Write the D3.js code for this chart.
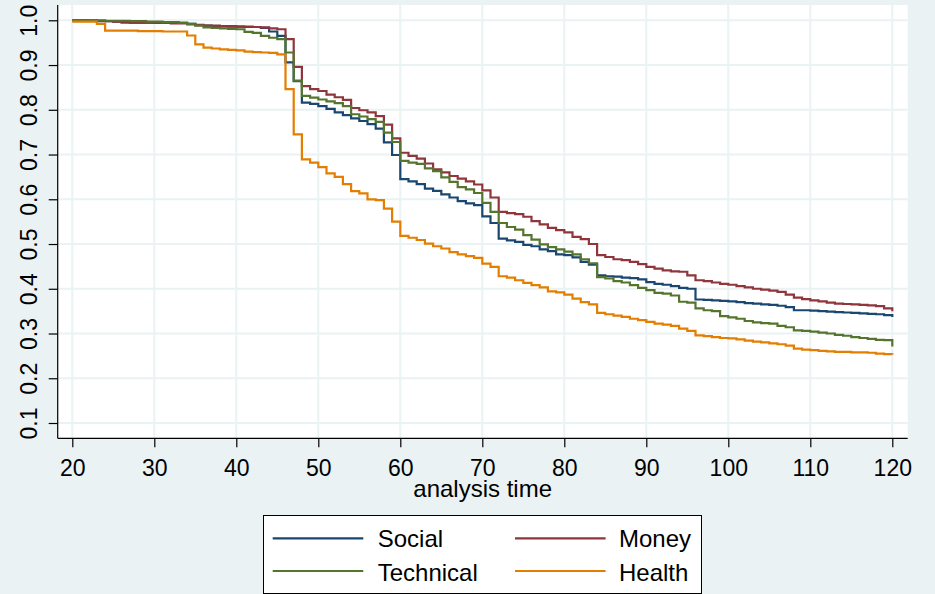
<!DOCTYPE html>
<html><head><meta charset="utf-8">
<script src="https://cdn.jsdelivr.net/npm/d3@7"></script>
<style>
html,body{margin:0;padding:0;background:#eaf2f3;}
svg{display:block;font-family:"Liberation Sans",Arial,Helvetica,sans-serif;}
</style></head>
<body>
<svg id="chart" width="935" height="594"></svg>
<script>
// ---- data ----
const times = d3.range(20, 121); // analysis time 20..120
const seriesNames = ["Social", "Money", "Technical", "Health"];
const social = [1.0,1.0,0.999,0.998,0.998,0.997,0.997,0.995,0.995,0.995,
  0.995,0.995,0.994,0.994,0.992,0.99,0.988,0.987,0.987,0.986,
  0.986,0.985,0.985,0.983,0.975,0.965,0.906,0.864,0.816,0.813,
  0.808,0.802,0.794,0.788,0.781,0.775,0.768,0.758,0.727,0.699,
  0.645,0.640,0.634,0.624,0.619,0.611,0.604,0.596,0.591,0.587,
  0.562,0.547,0.512,0.508,0.505,0.498,0.495,0.488,0.484,0.477,
  0.475,0.470,0.460,0.454,0.430,0.428,0.427,0.425,0.424,0.421,
  0.415,0.411,0.409,0.406,0.402,0.400,0.376,0.375,0.374,0.373,
  0.372,0.370,0.368,0.367,0.365,0.364,0.362,0.359,0.352,0.352,
  0.351,0.350,0.349,0.348,0.347,0.346,0.345,0.344,0.343,0.341,
  0.337];
const money = [1.0,1.0,1.0,0.999,0.998,0.997,0.995,0.995,0.995,0.995,
  0.994,0.994,0.993,0.993,0.991,0.989,0.988,0.988,0.987,0.987,
  0.986,0.986,0.985,0.984,0.982,0.980,0.958,0.896,0.853,0.846,
  0.842,0.834,0.828,0.822,0.804,0.799,0.794,0.786,0.767,0.736,
  0.704,0.697,0.691,0.680,0.667,0.660,0.652,0.646,0.640,0.633,
  0.620,0.604,0.572,0.569,0.567,0.561,0.551,0.544,0.536,0.531,
  0.526,0.516,0.511,0.500,0.475,0.471,0.466,0.464,0.460,0.455,
  0.449,0.445,0.441,0.439,0.438,0.430,0.419,0.417,0.414,0.411,
  0.409,0.406,0.403,0.400,0.398,0.396,0.393,0.387,0.380,0.377,
  0.374,0.372,0.369,0.367,0.366,0.365,0.364,0.363,0.361,0.356,
  0.350];
const technical = [1.0,1.0,1.0,1.0,0.999,0.999,0.999,0.998,0.998,0.997,
  0.997,0.996,0.996,0.995,0.992,0.988,0.984,0.983,0.982,0.981,
  0.980,0.974,0.972,0.965,0.961,0.958,0.928,0.865,0.831,0.827,
  0.823,0.819,0.815,0.808,0.790,0.785,0.779,0.773,0.749,0.728,
  0.686,0.682,0.679,0.669,0.663,0.649,0.639,0.627,0.622,0.614,
  0.592,0.572,0.547,0.538,0.532,0.520,0.510,0.499,0.493,0.488,
  0.483,0.477,0.466,0.457,0.426,0.423,0.417,0.414,0.408,0.402,
  0.397,0.391,0.389,0.385,0.371,0.369,0.356,0.352,0.350,0.339,
  0.336,0.333,0.328,0.325,0.323,0.322,0.317,0.314,0.307,0.306,
  0.304,0.302,0.300,0.297,0.295,0.292,0.290,0.288,0.286,0.285,
  0.271];
const health = [0.997,0.997,0.997,0.992,0.977,0.977,0.977,0.977,0.976,0.976,
  0.976,0.975,0.975,0.975,0.966,0.946,0.939,0.937,0.935,0.934,
  0.933,0.930,0.929,0.928,0.927,0.924,0.846,0.745,0.689,0.682,
  0.672,0.658,0.650,0.634,0.618,0.613,0.600,0.598,0.579,0.550,
  0.518,0.514,0.509,0.501,0.495,0.490,0.482,0.477,0.473,0.469,
  0.456,0.449,0.428,0.425,0.419,0.413,0.408,0.403,0.394,0.392,
  0.387,0.378,0.370,0.365,0.346,0.343,0.340,0.337,0.333,0.330,
  0.326,0.322,0.320,0.317,0.311,0.306,0.296,0.294,0.292,0.290,
  0.289,0.287,0.284,0.282,0.280,0.278,0.276,0.273,0.266,0.264,
  0.263,0.261,0.260,0.259,0.259,0.258,0.258,0.257,0.255,0.254,
  0.253];
const xTicks = [20,30,40,50,60,70,80,90,100,110,120];
const yTicks = [0.1,0.2,0.3,0.4,0.5,0.6,0.7,0.8,0.9,1.0];
const xTitle = "analysis time";
const colors = ["#1a476f","#90353b","#55752f","#e37e00"];

// ---- layout ----
const svg = d3.select("#chart");
const plotL = 57.7, plotR = 907.7, plotT = 5, plotB = 438.3;
const x = d3.scaleLinear().domain([20,120]).range([72.3, 892.3]);
const y = d3.scaleLinear().domain([0.1,1.0]).range([423, 20.3]);

svg.append("rect").attr("x",0).attr("y",0).attr("width",935).attr("height",594).attr("fill","#eaf2f3");
svg.append("rect").attr("x",plotL).attr("y",plotT).attr("width",plotR-plotL).attr("height",plotB-plotT).attr("fill","#ffffff");

// grid
const grid = svg.append("g");
grid.selectAll("line.h").data(yTicks).join("line")
  .attr("x1",plotL).attr("x2",plotR).attr("y1",d=>y(d)).attr("y2",d=>y(d))
  .attr("stroke","#eaf2f3").attr("stroke-width",2);
grid.selectAll("line.v").data(xTicks).join("line")
  .attr("y1",plotT).attr("y2",plotB).attr("x1",d=>x(d)).attr("x2",d=>x(d))
  .attr("stroke","#eaf2f3").attr("stroke-width",2);

// lines
const series = [social, money, technical, health];
const line = d3.line().x((d,i)=>x(times[i])).y(d=>y(d)).curve(d3.curveStepAfter);
svg.append("g").selectAll("path").data(series).join("path")
  .attr("d", d=>line(d)).attr("fill","none")
  .attr("stroke",(d,i)=>colors[i]).attr("stroke-width",2.2)
  .attr("stroke-linejoin","miter").attr("stroke-linecap","butt");

// axes
const yAxis = svg.append("g").attr("transform",`translate(${plotL},0)`)
  .call(d3.axisLeft(y).tickValues(yTicks).tickFormat(d3.format(".1f")).tickSize(9).tickSizeOuter(0));
yAxis.select(".domain").attr("d",`M0,${plotT}V${plotB}`).attr("stroke","#000").attr("stroke-width",1.2);
yAxis.selectAll(".tick line").attr("stroke","#000").attr("stroke-width",1.2);
yAxis.selectAll(".tick text").attr("transform","rotate(-90)").attr("x",0).attr("y",-20.7).attr("dy",0)
  .attr("text-anchor","middle").attr("font-size",23).attr("fill","#000")
  .attr("font-family","'Liberation Sans',Arial,sans-serif");

const xAxis = svg.append("g").attr("transform",`translate(0,${plotB})`)
  .call(d3.axisBottom(x).tickValues(xTicks).tickFormat(d3.format("d")).tickSize(9).tickSizeOuter(0));
xAxis.select(".domain").attr("d",`M${plotL},0H${plotR}`).attr("stroke","#000").attr("stroke-width",1.2);
xAxis.selectAll(".tick line").attr("stroke","#000").attr("stroke-width",1.2);
xAxis.selectAll(".tick text").attr("y",37.4).attr("dy",0).attr("font-size",23).attr("fill","#000")
  .attr("font-family","'Liberation Sans',Arial,sans-serif");

svg.append("text").attr("x",(plotL+plotR)/2).attr("y",497).attr("text-anchor","middle")
  .attr("font-size",24).attr("fill","#000").text(xTitle);

// legend
const leg = svg.append("g");
leg.append("rect").attr("x",263.5).attr("y",515.5).attr("width",438).attr("height",78)
  .attr("fill","#fff").attr("stroke","#000").attr("stroke-width",1);
const legPos = [
  {lx:272.7, tx:377.7, ly:538.3, ty:546.7},
  {lx:515, tx:619, ly:538.3, ty:546.7},
  {lx:272.7, tx:377.7, ly:571, ty:581},
  {lx:515, tx:619, ly:571, ty:581}
];
seriesNames.forEach((name,i)=>{
  const p = legPos[i];
  leg.append("line").attr("x1",p.lx).attr("x2",p.lx+90.6).attr("y1",p.ly).attr("y2",p.ly)
    .attr("stroke",colors[i]).attr("stroke-width",2.2);
  leg.append("text").attr("x",p.tx).attr("y",p.ty).attr("font-size",24).attr("fill","#000").text(name);
});
</script>
</body></html>
